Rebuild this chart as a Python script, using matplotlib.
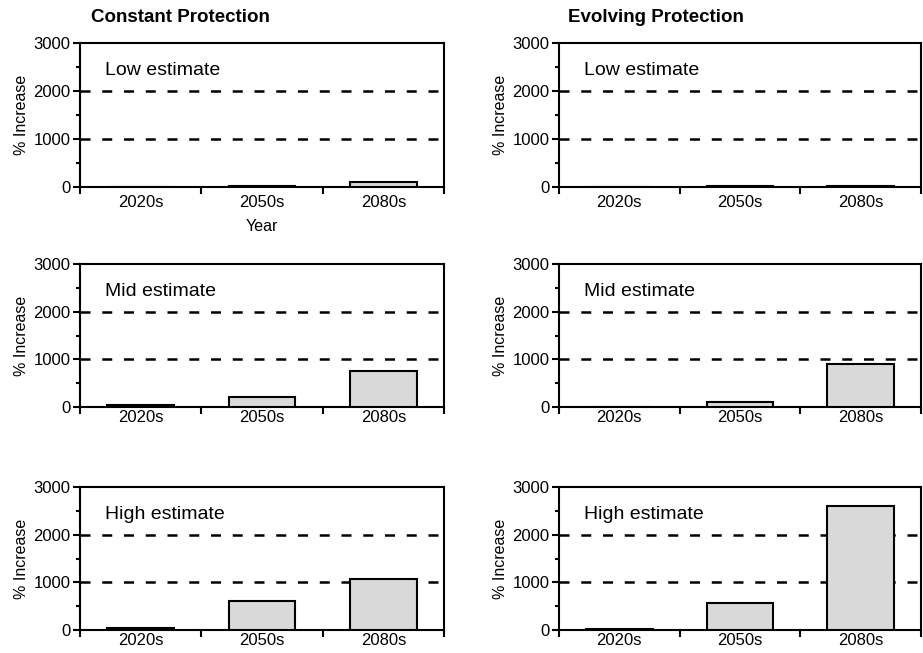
import matplotlib.pyplot as plt
import numpy as np

plt.rcParams['font.family'] = ['Liberation Sans', 'DejaVu Sans']

BAR = "#d9d9d9"

periods = ["2020s", "2050s", "2080s"]
estimates = ["Low estimate", "Mid estimate", "High estimate"]
titles = ["Constant Protection", "Evolving Protection"]

# % increase, rows = low / mid / high
constant = [
    [0, 30, 110],
    [40, 200, 760],
    [50, 600, 1080],
]
evolving = [
    [0, 30, 30],
    [0, 110, 910],
    [30, 570, 2600],
]

# axes boxes in pixels: left, right, top, bottom
W, H = 923, 653
col_x = [(80, 444), (559, 921)]
row_y = [(43, 187), (264, 407), (487, 630)]

fig = plt.figure(figsize=(W / 100, H / 100), dpi=100)

x = np.arange(len(periods))
for c, data in enumerate([constant, evolving]):
    for r in range(3):
        l, rr = col_x[c]
        t, b = row_y[r]
        ax = fig.add_axes([l / W, 1 - b / H, (rr - l) / W, (b - t) / H])
        ax.bar(x, data[r], width=0.55, color=BAR, edgecolor="black",
               linewidth=1.5, zorder=3)
        for yv in [1000, 2000]:
            ax.axhline(yv, color="black", linestyle=(0, (4, 4.7)),
                       linewidth=1.8, zorder=2)
        ax.set_xlim(-0.5, 2.5)
        ax.set_ylim(0, 3000)
        ax.set_yticks([0, 1000, 2000, 3000])
        ax.set_yticks([500, 1500, 2500], minor=True)
        ax.set_xticks(x)
        ax.set_xticklabels(periods)
        ax.set_xticks([-0.5, 0.5, 1.5, 2.5], minor=True)
        ax.tick_params(axis="x", which="major", length=0, labelsize=12,
                       pad=6 if r == 0 else 2)
        ax.tick_params(axis="x", which="minor", length=5, width=1.5,
                       direction="out")
        ax.tick_params(axis="y", which="major", length=5, width=1.5,
                       direction="out", labelsize=12, pad=2)
        ax.tick_params(axis="y", which="minor", length=3, width=1.5,
                       direction="out")
        for s in ax.spines.values():
            s.set_linewidth(1.5)
        ax.set_ylabel("% Increase", fontsize=11.5, labelpad=3)
        ax.text(0.07, 0.81, estimates[r], transform=ax.transAxes,
                fontsize=14, va="center", ha="left")
        if r == 0:
            ax.set_title(titles[c], fontsize=13.5, fontweight="bold",
                         loc="left", x=0.03 if c == 0 else 0.025, pad=15)
        if r == 0 and c == 0:
            ax.set_xlabel("Year", fontsize=11.5, labelpad=6)

fig.savefig("out.png", dpi=100)
